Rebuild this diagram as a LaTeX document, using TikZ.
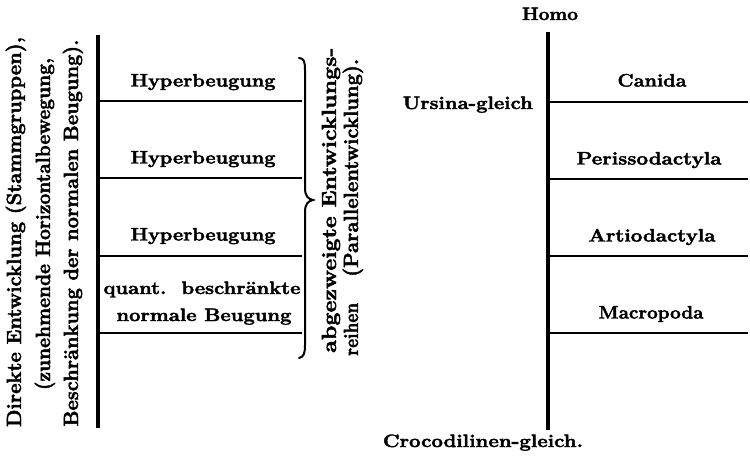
\documentclass[tikz,border=0pt]{standalone}
\usepackage{fontspec}
\setmainfont{Latin Modern Roman}[BoldFeatures={FakeBold=2.2}]
\usepackage{graphicx}
% scale a text horizontally to a given width, keeping its height
\newcommand\fitto[2]{\resizebox{#1}{\height}{#2}}
\tikzset{
  lbl/.style={font=\bfseries\fontsize{18}{22}\selectfont, inner sep=0pt, anchor=base},
  vlbl/.style={font=\bfseries\fontsize{20.5}{24}\selectfont, inner sep=0pt, rotate=90},
  stem/.style={line width=3.4pt},
  rung/.style={line width=2.8pt},
  bracestyle/.style={line width=2pt, line cap=round},
}
\begin{document}
\begin{tikzpicture}[x=1pt, y=-1pt]
\useasboundingbox (0,0) rectangle (750,459);

% ---------- left scheme ----------
\coordinate (Ltop) at (98,35);
\coordinate (Lbot) at (98,428);
\draw[stem] (Ltop) -- (Lbot);
\foreach \n/\y in {1/101, 2/178, 3/256, 4/333} {
  \coordinate (La\n) at (98,\y);
  \coordinate (Lb\n) at (302,\y);
  \draw[rung] (La\n) -- (Lb\n);
}
\node[lbl] (hyp1) at (203,86.5)  {\fitto{145pt}{Hyperbeugung}};
\node[lbl] (hyp2) at (203,163.5) {\fitto{145pt}{Hyperbeugung}};
\node[lbl] (hyp3) at (203,240.5) {\fitto{145pt}{Hyperbeugung}};
\node[lbl] (quant) at (202,294) {\fitto{197pt}{quant.\ \ beschränkte}};
\node[lbl] (norm)  at (204,321) {\fitto{175pt}{normale Beugung}};

% side labels, reading upwards
\node[vlbl, anchor=base] (direkt) at (21,232) {\fitto{390pt}{Direkte Entwicklung (Stammgruppen),}};
\node[vlbl, anchor=base] (zuneh)  at (50,224) {\fitto{332pt}{(zunehmende Horizontalbewegung,}};
\node[vlbl, anchor=base] (beschr) at (78,233) {\fitto{387pt}{Beschränkung der normalen Beugung).}};

% curly brace
\draw[bracestyle] (299,58) .. controls (304,58) and (305,62) .. (305,70)
  -- (305,188) .. controls (305,196) and (308,199) .. (313,200)
  .. controls (308,201) and (305,204) .. (305,212)
  -- (305,345) .. controls (305,353) and (304,357) .. (299,358);

\node[vlbl, anchor=base west] (abgez) at (336,353)
  {\fitto{305pt}{abgezweigte Entwicklungs-}};
\node[vlbl, anchor=base west] (reihen) at (358,356)
  {\fitto{53pt}{reihen}\hspace{26pt}\fitto{218pt}{(Parallelentwicklung).}};

% ---------- right scheme ----------
\coordinate (Rtop) at (548,32);
\coordinate (Rbot) at (548,430);
\draw[stem] (Rtop) -- (Rbot);
\foreach \n/\y in {1/102, 2/179, 3/256, 4/333} {
  \coordinate (Ra\n) at (548,\y);
  \coordinate (Rb\n) at (748,\y);
  \draw[rung] (Ra\n) -- (Rb\n);
}
\node[lbl] (homo)   at (550,20)  {\fitto{56pt}{Homo}};
\node[lbl] (canida) at (652,86.5)  {\fitto{69pt}{Canida}};
\node[lbl] (periss) at (649,164.5) {\fitto{145pt}{Perissodactyla}};
\node[lbl] (artio)  at (652,241.5) {\fitto{127pt}{Artiodactyla}};
\node[lbl] (macro)  at (651,318.5) {\fitto{105pt}{Macropoda}};
\node[lbl, anchor=base east] (ursina) at (533,109) {\fitto{130pt}{Ursina-gleich}};
\node[lbl] (croco)  at (483,447) {\fitto{200pt}{Crocodilinen-gleich.}};
\end{tikzpicture}
\end{document}
